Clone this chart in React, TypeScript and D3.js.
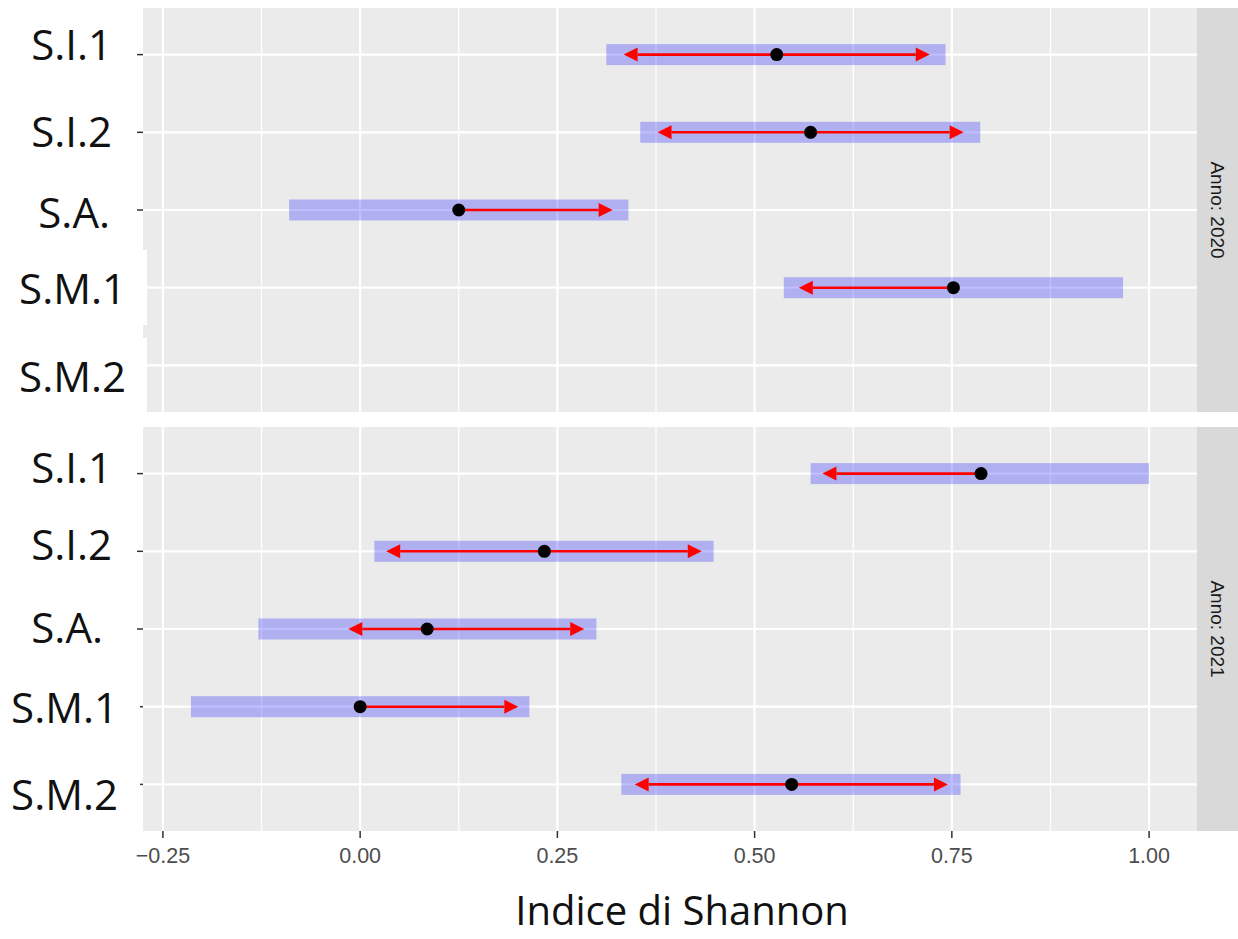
import * as d3 from "d3";
import React from "react";

// sites on the y axis, one facet per year
const categories = ["S.I.1", "S.I.2", "S.A.", "S.M.1", "S.M.2"];
const years = ["2020", "2021"];

// 2020 (S.M.2 has no data)
const mean2020 = [0.528, 0.571, 0.125, 0.752, null];
const barLo2020 = [0.312, 0.355, -0.09, 0.537, null];
const barHi2020 = [0.742, 0.786, 0.34, 0.967, null];
const arrowLo2020 = [0.334, 0.377, null, 0.556, null];
const arrowHi2020 = [0.722, 0.765, 0.32, null, null];

// 2021
const mean2021 = [0.787, 0.2335, 0.085, 0.0, 0.547];
const barLo2021 = [0.571, 0.018, -0.129, -0.2145, 0.331];
const barHi2021 = [1.0, 0.448, 0.2995, 0.2145, 0.761];
const arrowLo2021 = [0.586, 0.033, -0.015, null, 0.348];
const arrowHi2021 = [null, 0.433, 0.284, 0.2005, 0.745];

const xTicks = [-0.25, 0, 0.25, 0.5, 0.75, 1.0];
const xMinor = [-0.125, 0.125, 0.375, 0.625, 0.875];

const W = 1238, H = 939;
const panelL = 143, panelR = 1197, stripR = 1238;
const panelTops = [8, 427];
const panelH = 404;

// pasted label boxes are not aligned the same way (right edge, baseline shift)
const labelRight = [[112, 112, 110, 126, 126], [112, 112, 103, 118, 118]];
const labelDy = [[5, 15, 18, 16, 27], [9, 9, 14, 16, 26]];

const panels = [
  { year: years[0], mean: mean2020, lo: barLo2020, hi: barHi2020, aLo: arrowLo2020, aHi: arrowHi2020 },
  { year: years[1], mean: mean2021, lo: barLo2021, hi: barHi2021, aLo: arrowLo2021, aHi: arrowHi2021 },
];

const allVals = panels.flatMap(p => [...p.lo, ...p.hi]).filter(v => v != null) as number[];
const [vMin, vMax] = d3.extent(allVals) as [number, number];
const pad = (vMax - vMin) * 0.05;
const x = d3.scaleLinear().domain([vMin - pad, vMax + pad]).range([panelL, panelR]);

const Arrow = ({ from, to, y }: { from: number; to: number; y: number }) => {
  const dir = Math.sign(to - from);
  const base = to - dir * 14;
  return (
    <g>
      <line x1={from} x2={base} y1={y} y2={y} stroke="#ff0000" strokeWidth={2.6} />
      <polygon points={`${to},${y} ${base},${y - 7} ${base},${y + 7}`} fill="#ff0000" />
    </g>
  );
};

export default function App() {
  return (
    <svg width={W} height={H} style={{ position: "absolute", left: 0, top: 0, background: "#fff" }}>
      {panels.map((p, pi) => {
        const top = panelTops[pi];
        const y = d3.scalePoint<string>().domain(categories).range([top, top + panelH]).padding(0.6);
        return (
          <g key={p.year}>
            <rect x={panelL} y={top} width={panelR - panelL} height={panelH} fill="#ebebeb" />
            {xMinor.map(t => (
              <line key={"m" + t} x1={x(t)} x2={x(t)} y1={top} y2={top + panelH} stroke="#fff" strokeWidth={1.3} />
            ))}
            {xTicks.map(t => (
              <line key={"M" + t} x1={x(t)} x2={x(t)} y1={top} y2={top + panelH} stroke="#fff" strokeWidth={2.2} />
            ))}
            {categories.map(c => (
              <line key={"h" + c} x1={panelL} x2={panelR} y1={y(c)} y2={y(c)} stroke="#fff" strokeWidth={2.2} />
            ))}
            {categories.map((c, i) =>
              p.lo[i] == null ? null : (
                <rect key={"b" + c} x={x(p.lo[i]!)} width={x(p.hi[i]!) - x(p.lo[i]!)} y={y(c)! - 10.5} height={21}
                  fill="#0000ff" fillOpacity={0.25} />
              )
            )}
            {categories.map((c, i) => {
              const m = p.mean[i];
              if (m == null) return null;
              return (
                <g key={"a" + c}>
                  {p.aLo[i] != null && <Arrow from={x(m)} to={x(p.aLo[i]!)} y={y(c)!} />}
                  {p.aHi[i] != null && <Arrow from={x(m)} to={x(p.aHi[i]!)} y={y(c)!} />}
                  <circle cx={x(m)} cy={y(c)} r={6.5} fill="#000" />
                </g>
              );
            })}
            {categories.map(c => (
              <line key={"t" + c} x1={panelL - 6} x2={panelL} y1={y(c)} y2={y(c)} stroke="#333" strokeWidth={1.5} />
            ))}
            {pi === 0 && (
              <g>
                <rect x={0} y={250} width={147} height={75} fill="#fff" />
                <rect x={0} y={338} width={147} height={top + panelH - 338} fill="#fff" />
              </g>
            )}
            {pi === 1 && (
              <g>
                <rect x={120} y={695} width={20} height={20} fill="#fff" />
                <rect x={120} y={774} width={20} height={20} fill="#fff" />
              </g>
            )}
            {categories.map((c, i) => (
              <text key={"l" + c} x={labelRight[pi][i]} y={y(c)! + labelDy[pi][i]} textAnchor="end"
                fontFamily="'Open Sans', sans-serif" fontSize={42} fill="#111">
                {c}
              </text>
            ))}
            <rect x={panelR} y={top} width={stripR - panelR} height={panelH} fill="#d9d9d9" />
            <text transform={`translate(${(panelR + stripR) / 2},${top + panelH / 2}) rotate(90)`}
              textAnchor="middle" dy="0.35em" fontFamily="'Liberation Sans', Arial, sans-serif" fontSize={19} fill="#1a1a1a">
              {`Anno: ${p.year}`}
            </text>
          </g>
        );
      })}
      <g>
        {xTicks.map(t => (
          <g key={"xt" + t}>
            <line x1={x(t)} x2={x(t)} y1={panelTops[1] + panelH} y2={panelTops[1] + panelH + 7} stroke="#333" strokeWidth={1.5} />
            <text x={x(t)} y={863} textAnchor="middle" fontFamily="'Liberation Sans', Arial, sans-serif" fontSize={21.5} fill="#4d4d4d">
              {d3.format(".2f")(t)}
            </text>
          </g>
        ))}
      </g>
      <text x={682} y={925} textAnchor="middle" fontFamily="'Open Sans', sans-serif" fontSize={40} fill="#111">
        Indice di Shannon
      </text>
    </svg>
  );
}
